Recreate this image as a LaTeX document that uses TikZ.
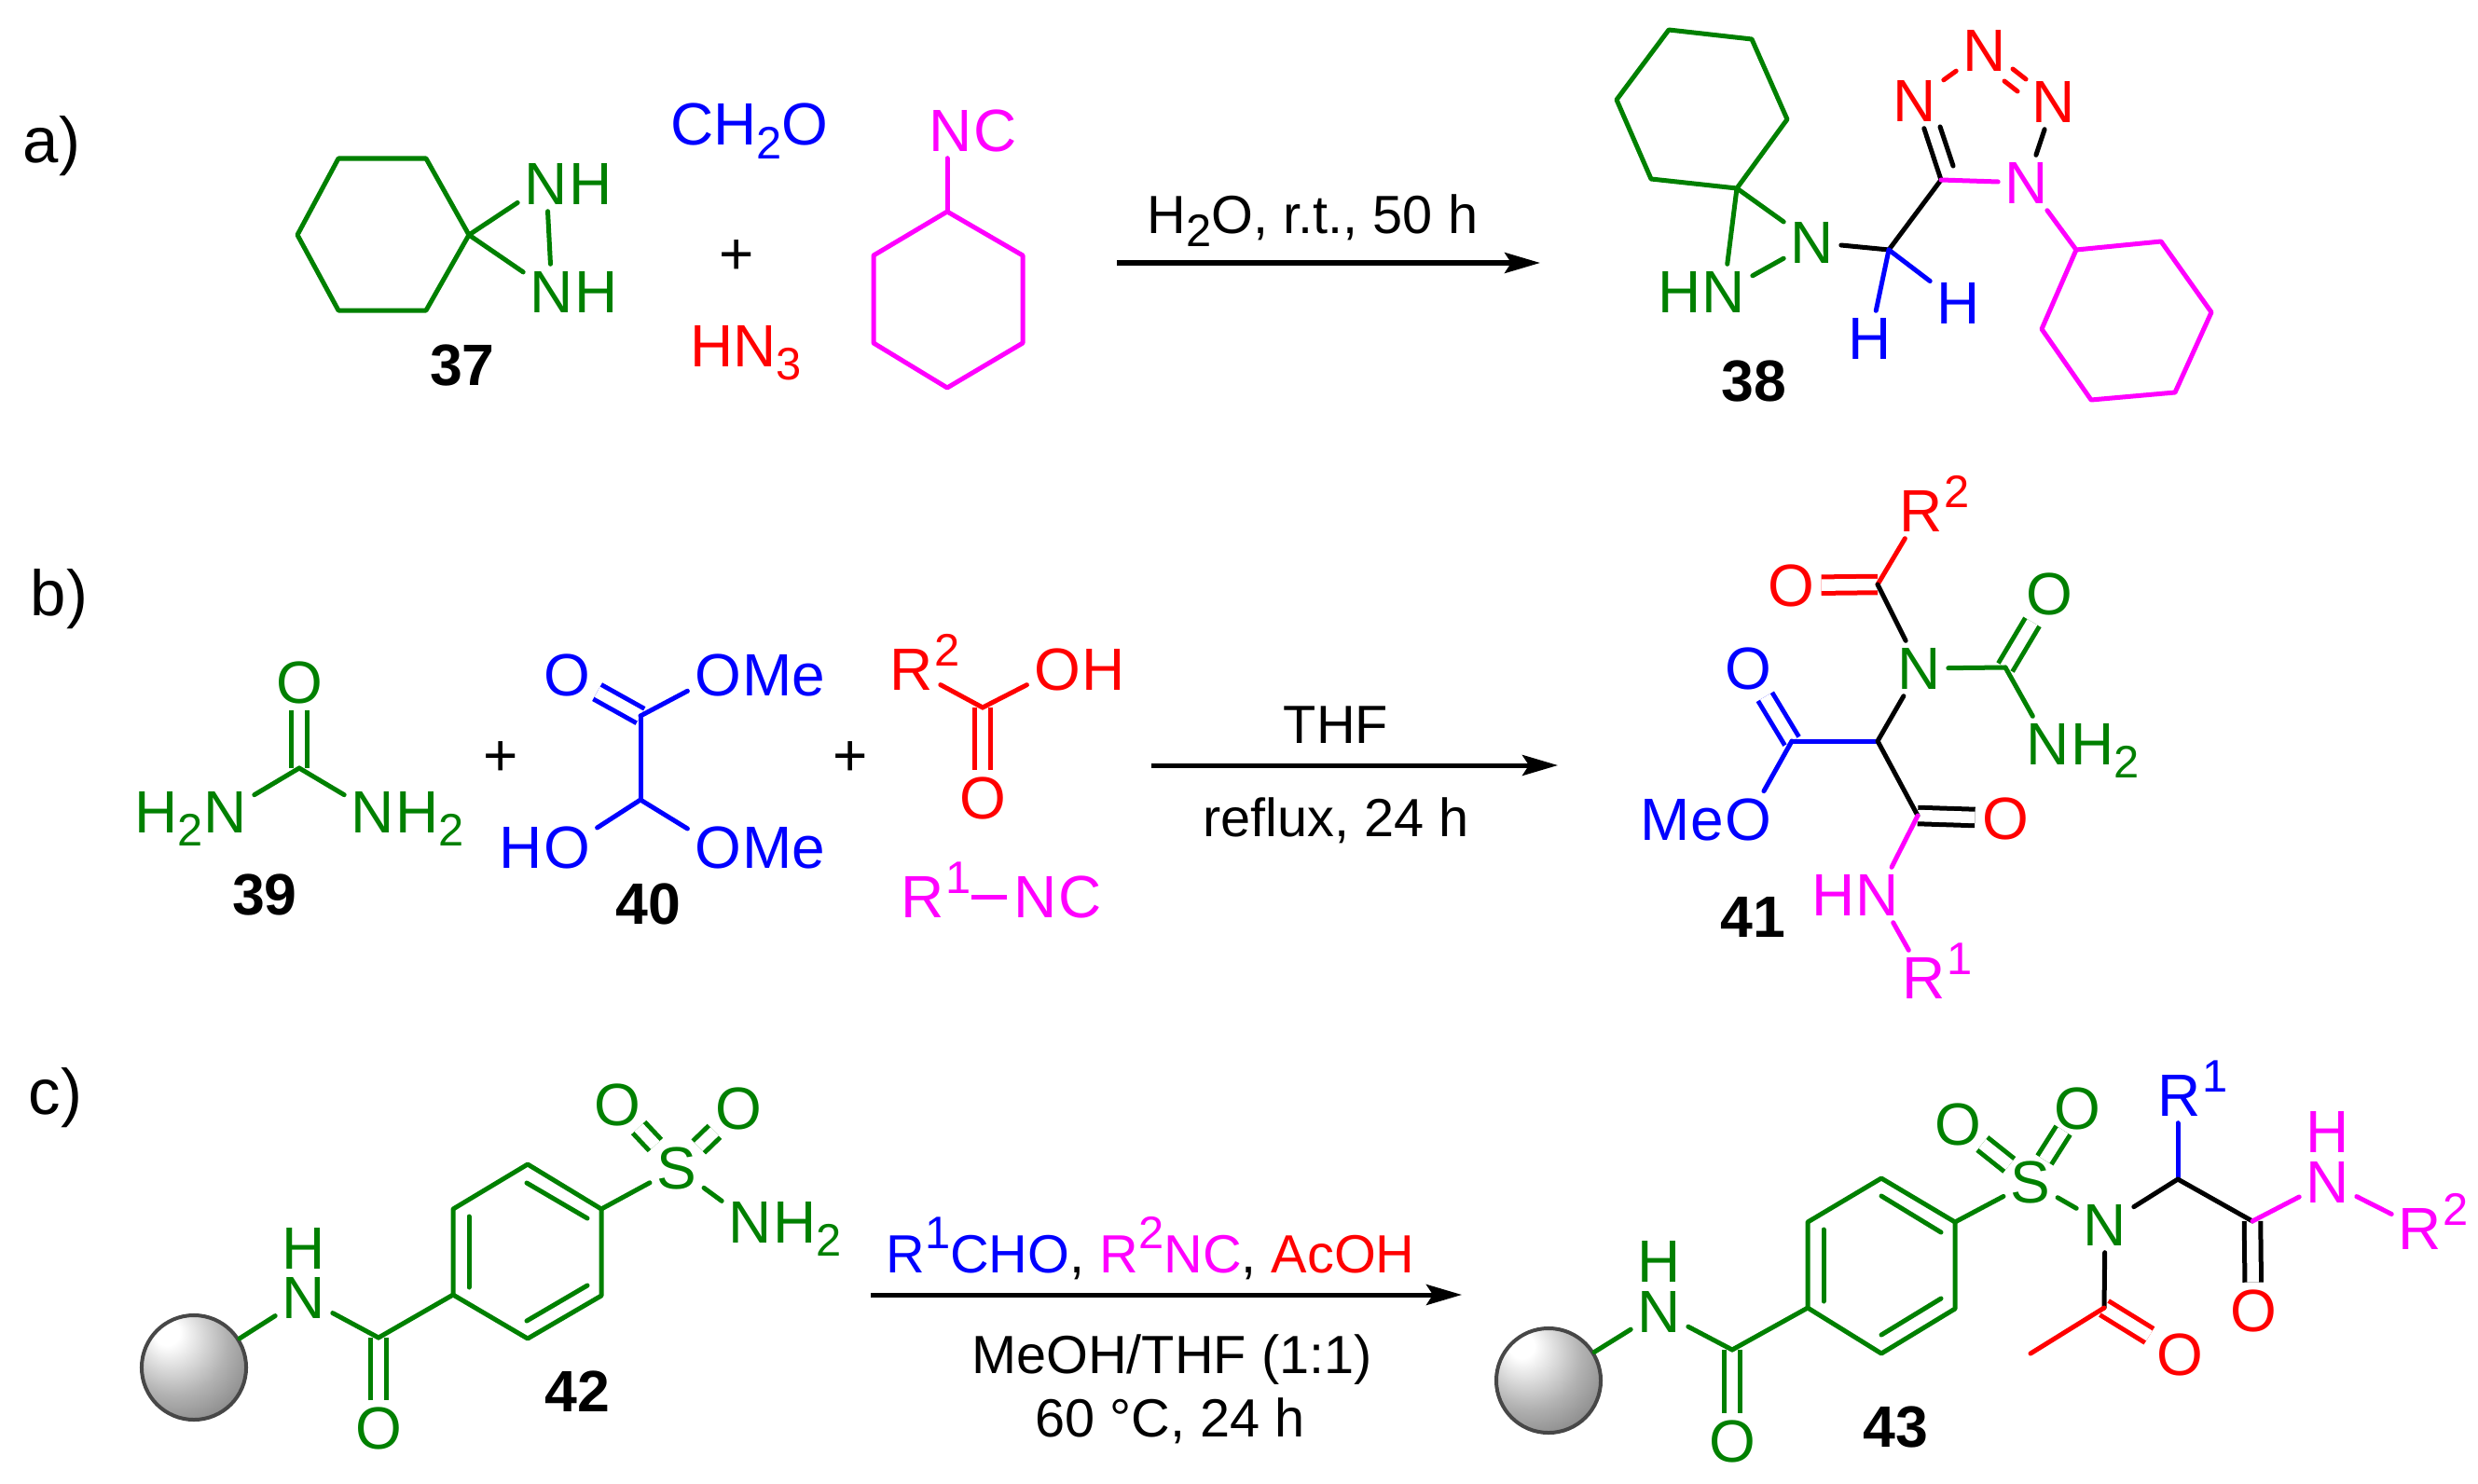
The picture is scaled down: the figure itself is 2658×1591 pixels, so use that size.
\documentclass[tikz,border=0pt]{standalone}
\usepackage{fontspec}
\setmainfont{Liberation Sans}
\usetikzlibrary{arrows.meta}
\usetikzlibrary{calc}
\definecolor{fuchsia}{RGB}{255,0,255}
\newcommand{\lowsub}[1]{\raisebox{-.14cm}{\fontsize{13.9pt}{14pt}\selectfont #1}}
\newcommand{\highsup}[1]{\raisebox{.26cm}{\fontsize{13.9pt}{14pt}\selectfont #1}}
\pgfdeclareradialshading{bead shade}{\pgfpoint{-14bp}{18bp}}{color(0bp)=(white); color(6bp)=(white); color(25bp)=(black!30); color(45bp)=(black!55); color(60bp)=(black!70); color(75bp)=(black!75)}
\begin{document}
\begin{tikzpicture}[
    x=.01cm,
    y=-.01cm,
    >={Stealth[length=.38cm,width=.22cm,inset=.07cm]},
    chem font/.style={font=\fontsize{18.2pt}{20pt}\selectfont},
    atom node/.style={chem font,inner sep=.07cm},
    amine node/.style={atom node,inner ysep=.02cm},
    free node/.style={chem font,inner sep=0pt},
    tail node/.style={chem font,inner sep=0pt,anchor=base west,xshift=-.07cm},
    head node/.style={chem font,inner sep=0pt,anchor=base east,xshift=.07cm},
    text node/.style={chem font,inner sep=0pt,anchor=base},
    number node/.style={font=\fontsize{17.8pt}{20pt}\selectfont\bfseries,inner sep=0pt},
    letter node/.style={font=\fontsize{19.6pt}{22pt}\selectfont,inner sep=0pt,anchor=base west},
    cond node/.style={font=\fontsize{16.4pt}{18pt}\selectfont,inner sep=0pt,anchor=base},
    bond link/.style={line width=.05cm,line cap=round,line join=round},
    double link/.style={line width=.05cm,double,double distance=.125cm},
    oxo link/.style={double link,shorten <=-.08cm,shorten >=-.08cm},
    arrow link/.style={line width=.05cm,->},
    bead/.style={circle,draw=black!72,line width=.04cm,minimum size=1.12cm,inner sep=0pt,shading=bead shade}
    ]
    \useasboundingbox (0,0) rectangle (2658,1591);
    % panel letters
    \node [letter node] (La) at (24,175) {a)};
    \node [letter node] (Lb) at (32,660) {b)};
    \node [letter node] (Lc) at (30,1195) {c)};
    % arrows
    \coordinate (A1s) at (1198,282);
    \coordinate (A1e) at (1652,282);
    \coordinate (A2s) at (1235,821);
    \coordinate (A2e) at (1671,821);
    \coordinate (A3s) at (934,1389);
    \coordinate (A3e) at (1568,1389);
    \draw [arrow link] (A1s) -- (A1e);
    \draw [arrow link] (A2s) -- (A2e);
    \draw [arrow link] (A3s) -- (A3e);
    \node [cond node] (C1) at (1408,250) {H\lowsub{2}O, r.t., 50 h};
    \node [cond node] (C2a) at (1433,797) {THF};
    \node [cond node] (C2b) at (1433,897) {reflux, 24 h};
    \node [cond node] (C3a) at (1234,1365) {\textcolor{blue}{R\highsup{1}CHO}, \textcolor{fuchsia}{R\highsup{2}NC}, \textcolor{red}{AcOH}};
    \node [cond node] (C3b) at (1257,1473) {MeOH/THF (1:1)};
    \node [cond node] (C3c) at (1255,1541) {60 °C, 24 h};
    % 37
    \foreach \v/\x/\y in {a/319/252,b/363/170,c/457/170,d/503/252,e/457/333,f/363/333} {
        \coordinate (R37\v) at (\x,\y);
    }
    \node [atom node,green!50!black] (N37a) at (586,197) {N};
    \node [tail node,green!50!black] (H37a) at (N37a.base east) {H};
    \node [atom node,green!50!black] (N37b) at (592,313) {N};
    \node [tail node,green!50!black] (H37b) at (N37b.base east) {H};
    \draw [bond link,green!50!black] (R37a) -- (R37b) -- (R37c) -- (R37d) -- (R37e) -- (R37f) -- cycle;
    \draw [bond link,green!50!black] (R37d) -- (N37a);
    \draw [bond link,green!50!black] (R37d) -- (N37b);
    \draw [bond link,green!50!black] (N37a) -- (N37b);
    \node [number node] (M37) at (496,392) {37};
    % reagents of a
    \node [text node,blue] (CH2O) at (804,156) {CH\lowsub{2}O};
    \node [text node,red] (HN3) at (800,393) {HN\lowsub{3}};
    \node [free node] (P1) at (790,276) {+};
    \foreach \v/\x/\y in {a/1016/227,b/1097/274,c/1097/368,d/1016/416,e/937/368,f/937/274} {
        \coordinate (Rnc\v) at (\x,\y);
    }
    \node [atom node,fuchsia] (Nnc) at (1020,140) {N};
    \node [tail node,fuchsia] (Cnc) at (Nnc.base east) {C};
    \draw [bond link,fuchsia] (Rnca) -- (Rncb) -- (Rncc) -- (Rncd) -- (Rnce) -- (Rncf) -- cycle;
    \draw [bond link,fuchsia] (Rnca) -- (Rnca |- Nnc.south);
    % 38
    \foreach \v/\x/\y in {a/1790/32,b/1879/42,c/1917/128,d/1863/202,e/1771/192,f/1734/107} {
        \coordinate (R38\v) at (\x,\y);
    }
    \foreach \v/\x/\y in {a/2227/268,b/2318/259,c/2372/335,d/2333/421,e/2243/429,f/2190/353} {
        \coordinate (Q38\v) at (\x,\y);
    }
    \coordinate (C38a) at (2026,268);
    \coordinate (C38b) at (2082,193);
    \coordinate (D38a) at (2095,178);
    \coordinate (D38b) at (2081,136);
    \coordinate (D38c) at (2159,74);
    \coordinate (D38d) at (2173,85);
    \coordinate (D38e) at (2150,87);
    \coordinate (D38f) at (2164,98);
    \node [atom node,green!50!black] (N38a) at (1944,260) {N};
    \node [atom node,green!50!black] (N38b) at (1849,313) {N};
    \node [head node,green!50!black] (H38b) at (N38b.base west) {H};
    \node [atom node,blue] (H38c) at (2101,325) {H};
    \node [atom node,blue] (H38d) at (2006,363) {H};
    \node [atom node,red] (N38c) at (2054,108) {N};
    \node [atom node,red] (N38d) at (2129,54) {N};
    \node [atom node,red] (N38e) at (2203,109) {N};
    \node [atom node,fuchsia] (N38f) at (2174,196) {N};
    \draw [bond link,green!50!black] (R38a) -- (R38b) -- (R38c) -- (R38d) -- (R38e) -- (R38f) -- cycle;
    \draw [bond link,green!50!black] (R38d) -- (N38a);
    \draw [bond link,green!50!black] (R38d) -- (N38b);
    \draw [bond link,green!50!black] (N38a) -- (N38b);
    \draw [bond link] (N38a) -- (C38a);
    \draw [bond link] (C38a) -- (C38b);
    \draw [bond link] (C38b) -- (N38c);
    \draw [bond link] (D38a) -- (D38b);
    \draw [bond link] (N38e) -- (N38f);
    \draw [bond link,blue] (C38a) -- (H38c);
    \draw [bond link,blue] (C38a) -- (H38d);
    \draw [bond link,red] (N38c) -- (N38d);
    \draw [bond link,red] (D38c) -- (D38d);
    \draw [bond link,red] (D38e) -- (D38f);
    \draw [bond link,fuchsia] (C38b) -- (N38f);
    \draw [bond link,fuchsia] (N38f) -- (Q38a);
    \draw [bond link,fuchsia] (Q38a) -- (Q38b) -- (Q38c) -- (Q38d) -- (Q38e) -- (Q38f) -- cycle;
    \node [number node] (M38) at (1881,409) {38};
    % 39
    \coordinate (C39) at (321,824);
    \node [atom node,green!50!black] (O39) at (321,732) {O};
    \node [atom node,green!50!black] (N39a) at (242,871) {N};
    \node [head node,green!50!black] (H39a) at (N39a.base west) {H\lowsub{2}};
    \node [atom node,green!50!black] (N39b) at (400,871) {N};
    \node [tail node,green!50!black] (H39b) at (N39b.base east) {H\lowsub{2}};
    \draw [double link,green!50!black] (C39) -- (O39);
    \draw [bond link,green!50!black] (C39) -- (N39a);
    \draw [bond link,green!50!black] (C39) -- (N39b);
    \node [number node] (M39) at (284,960) {39};
    \node [free node] (P2) at (537,814) {+};
    % 40
    \coordinate (C40a) at (687,768);
    \coordinate (C40b) at (687,858);
    \node [atom node,blue] (O40a) at (608,724) {O};
    \node [atom node,blue] (O40b) at (770,724) {O};
    \node [tail node,blue] (Me40b) at (O40b.base east) {Me};
    \node [atom node,blue] (O40c) at (608,909) {O};
    \node [head node,blue] (H40c) at (O40c.base west) {H};
    \node [atom node,blue] (O40d) at (770,909) {O};
    \node [tail node,blue] (Me40d) at (O40d.base east) {Me};
    \draw [double link,blue] (C40a) -- (O40a);
    \draw [bond link,blue] (C40a) -- (O40b);
    \draw [bond link,blue] (C40a) -- (C40b);
    \draw [bond link,blue] (C40b) -- (O40c);
    \draw [bond link,blue] (C40b) -- (O40d);
    \node [number node] (M40) at (695,970) {40};
    \node [free node] (P3) at (912,814) {+};
    % acid and isonitrile of b
    \coordinate (Cac) at (1054,759);
    \node [atom node,red] (Rac) at (978,718) {R};
    \node [tail node,red] (Sac) at (Rac.base east) {\highsup{2}};
    \node [atom node,red] (Oac) at (1134,718) {O};
    \node [tail node,red] (Hac) at (Oac.base east) {H};
    \node [atom node,red] (Odb) at (1054,856) {O};
    \draw [double link,red] (Cac) -- (Odb);
    \draw [bond link,red] (Cac) -- (Rac);
    \draw [bond link,red] (Cac) -- (Oac);
    \node [atom node,fuchsia] (Rin) at (990,962) {R};
    \node [tail node,fuchsia] (Sin) at (Rin.base east) {\highsup{1}};
    \node [atom node,fuchsia] (Nin) at (1111,962) {N};
    \node [tail node,fuchsia] (Cin) at (Nin.base east) {C};
    \draw [bond link,fuchsia,line cap=butt] (Sin.east |- Nin) -- (Nin);
    % 41
    \coordinate (C41a) at (2014,627);
    \coordinate (C41b) at (2151,716);
    \coordinate (C41c) at (2014,795);
    \coordinate (C41d) at (1922,795);
    \coordinate (C41e) at (2057,875);
    \node [atom node,red] (R41a) at (2061,548) {R};
    \node [tail node,red] (S41a) at (R41a.base east) {\highsup{2}};
    \node [atom node,red] (O41a) at (1921,628) {O};
    \node [atom node,green!50!black] (N41a) at (2059,717) {N};
    \node [atom node,green!50!black] (O41b) at (2198,637) {O};
    \node [atom node,green!50!black] (N41b) at (2197,798) {N};
    \node [tail node,green!50!black] (H41b) at (N41b.base east) {H\lowsub{2}};
    \node [atom node,blue] (O41c) at (1875,717) {O};
    \node [atom node,blue] (O41d) at (1875,879) {O};
    \node [head node,blue] (Me41d) at (O41d.base west) {Me};
    \node [atom node,red] (O41e) at (2151,878) {O};
    \node [atom node,fuchsia] (N41c) at (2014,960) {N};
    \node [head node,fuchsia] (H41c) at (N41c.base west) {H};
    \node [atom node,fuchsia] (R41b) at (2064,1049) {R};
    \node [tail node,fuchsia] (S41b) at (R41b.base east) {\highsup{1}};
    \draw [double link,red] (C41a) -- (O41a);
    \draw [double link,green!50!black] (C41b) -- (O41b);
    \draw [double link,blue] (C41d) -- (O41c);
    \draw [double link] (C41e) -- (O41e);
    \draw [bond link,red] (C41a) -- (R41a);
    \draw [bond link] (C41a) -- (N41a);
    \draw [bond link,green!50!black] (N41a) -- (C41b);
    \draw [bond link,green!50!black] (C41b) -- (N41b);
    \draw [bond link] (N41a) -- (C41c);
    \draw [bond link,blue] (C41c) -- (C41d);
    \draw [bond link,blue] (C41d) -- (O41d);
    \draw [bond link] (C41c) -- (C41e);
    \draw [bond link,fuchsia] (C41e) -- (N41c);
    \draw [bond link,fuchsia] (N41c) -- (R41b);
    \node [number node] (M41) at (1880,984) {41};
    % 42
    \foreach \v/\x/\y in {a/486/1389,b/486/1297,c/566/1249,d/645/1297,e/645/1390,f/566/1436} {
        \coordinate (R42\v) at (\x,\y);
    }
    \foreach \v/\x/\y in {a/503/1305,b/503/1381,c/565/1269,d/630/1307,e/565/1417,f/630/1379} {
        \coordinate (D42\v) at (\x,\y);
    }
    \coordinate (C42) at (406,1435);
    \node [bead] (B42) at (208,1467) {};
    \node [free node,green!50!black] (H42a) at (326,1339) {H};
    \node [amine node,green!50!black] (N42a) at (326,1392) {N};
    \node [atom node,green!50!black] (O42a) at (406,1532) {O};
    \node [atom node,green!50!black] (S42) at (726,1253) {S};
    \node [atom node,green!50!black] (O42b) at (662,1185) {O};
    \node [atom node,green!50!black] (O42c) at (792,1189) {O};
    \node [atom node,green!50!black] (N42b) at (805,1311) {N};
    \node [tail node,green!50!black] (H42b) at (N42b.base east) {H\lowsub{2}};
    \draw [double link,green!50!black] (C42) -- (O42a);
    \draw [oxo link,green!50!black] (S42) -- (O42b);
    \draw [oxo link,green!50!black] (S42) -- (O42c);
    \draw [bond link,green!50!black] (B42) -- (N42a);
    \draw [bond link,green!50!black] (N42a) -- (C42);
    \draw [bond link,green!50!black] (C42) -- (R42a);
    \draw [bond link,green!50!black] (R42a) -- (R42b) -- (R42c) -- (R42d) -- (R42e) -- (R42f) -- cycle;
    \draw [bond link,green!50!black] (D42a) -- (D42b);
    \draw [bond link,green!50!black] (D42c) -- (D42d);
    \draw [bond link,green!50!black] (D42e) -- (D42f);
    \draw [bond link,green!50!black] (R42d) -- (S42);
    \draw [bond link,green!50!black] (S42) -- (N42b);
    \node [number node] (M42) at (619,1493) {42};
    % 43
    \foreach \v/\x/\y in {a/1939/1403,b/1939/1311,c/2018/1264,d/2097/1311,e/2097/1404,f/2018/1452} {
        \coordinate (R43\v) at (\x,\y);
    }
    \foreach \v/\x/\y in {a/1956/1319,b/1956/1396,c/2018/1283,d/2082/1322,e/2018/1432,f/2082/1393} {
        \coordinate (D43\v) at (\x,\y);
    }
    \coordinate (C43a) at (1858,1448);
    \coordinate (C43b) at (2336,1265);
    \coordinate (C43c) at (2416,1310);
    \coordinate (C43d) at (2257,1403);
    \coordinate (C43e) at (2178,1452);
    \node [bead] (B43) at (1661,1481) {};
    \node [free node,green!50!black] (H43a) at (1780,1353) {H};
    \node [amine node,green!50!black] (N43a) at (1780,1407) {N};
    \node [atom node,green!50!black] (O43a) at (1858,1546) {O};
    \node [atom node,green!50!black] (S43) at (2178,1268) {S};
    \node [atom node,green!50!black] (O43b) at (2100,1206) {O};
    \node [atom node,green!50!black] (O43c) at (2228,1189) {O};
    \node [atom node,green!50!black] (N43b) at (2258,1314) {N};
    \node [atom node,blue] (R43r) at (2338,1175) {R};
    \node [tail node,blue] (S43r) at (R43r.base east) {\highsup{1}};
    \node [atom node,red] (O43d) at (2417,1406) {O};
    \node [free node,fuchsia] (H43c) at (2497,1214) {H};
    \node [amine node,fuchsia] (N43c) at (2497,1268) {N};
    \node [atom node,fuchsia] (R43s) at (2596,1318) {R};
    \node [tail node,fuchsia] (S43s) at (R43s.base east) {\highsup{2}};
    \node [atom node,red] (O43e) at (2338,1453) {O};
    \draw [double link,green!50!black] (C43a) -- (O43a);
    \draw [oxo link,green!50!black] (S43) -- (O43b);
    \draw [oxo link,green!50!black] (S43) -- (O43c);
    \draw [double link] (C43c) -- (O43d);
    \draw [double link,red] (C43d) -- (O43e);
    \draw [bond link,green!50!black] (B43) -- (N43a);
    \draw [bond link,green!50!black] (N43a) -- (C43a);
    \draw [bond link,green!50!black] (C43a) -- (R43a);
    \draw [bond link,green!50!black] (R43a) -- (R43b) -- (R43c) -- (R43d) -- (R43e) -- (R43f) -- cycle;
    \draw [bond link,green!50!black] (D43a) -- (D43b);
    \draw [bond link,green!50!black] (D43c) -- (D43d);
    \draw [bond link,green!50!black] (D43e) -- (D43f);
    \draw [bond link,green!50!black] (R43d) -- (S43);
    \draw [bond link,green!50!black] (S43) -- (N43b);
    \draw [bond link] (N43b) -- (C43b);
    \draw [bond link,blue] (C43b) -- (C43b |- R43r.south);
    \draw [bond link] (C43b) -- (C43c);
    \draw [bond link,fuchsia] (C43c) -- (N43c);
    \draw [bond link,fuchsia] (N43c) -- (R43s);
    \draw [bond link] (N43b) -- (C43d);
    \draw [bond link,red] (C43d) -- (C43e);
    \node [number node] (M43) at (2033,1531) {43};
\end{tikzpicture}
\end{document}
